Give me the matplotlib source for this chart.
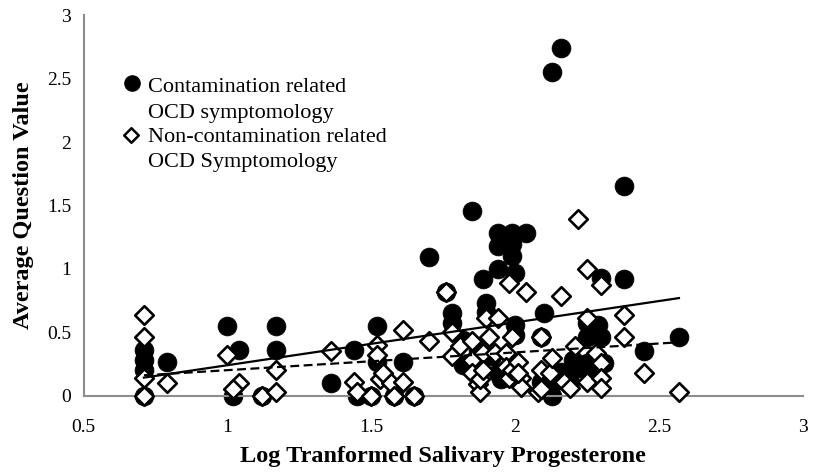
import numpy as np
import matplotlib
matplotlib.use('Agg')
import matplotlib.pyplot as plt

plt.rcParams['font.family'] = ['Liberation Serif', 'DejaVu Serif']

# contamination related OCD symptomology (filled circles)
contam_x = [0.71, 0.71, 0.71, 0.71, 0.79, 1.00, 1.04, 1.02, 1.12, 1.17, 1.17,
            1.36, 1.44, 1.45, 1.50, 1.52, 1.52, 1.58, 1.61, 1.65, 1.70, 1.76,
            1.78, 1.78, 1.82, 1.82, 1.85, 1.85, 1.87, 1.89, 1.90, 1.90, 1.92,
            1.94, 1.94, 1.94, 1.94, 1.95, 1.99, 1.99, 1.99, 2.00, 2.00, 2.00,
            2.04, 2.09, 2.09, 2.10, 2.13, 2.13, 2.16, 2.13, 2.16, 2.19, 2.20,
            2.22, 2.25, 2.25, 2.29, 2.25, 2.30, 2.28, 2.31, 2.30, 2.38, 2.38,
            2.45, 2.57]
contam_y = [0.36, 0.28, 0.20, 0.00, 0.27, 0.55, 0.36, 0.00, 0.00, 0.55, 0.36,
            0.10, 0.36, 0.00, 0.00, 0.55, 0.27, 0.00, 0.27, 0.00, 1.09, 0.82,
            0.65, 0.57, 0.44, 0.24, 1.46, 0.27, 0.36, 0.92, 0.73, 0.66, 0.31,
            1.28, 1.18, 1.00, 0.18, 0.13, 1.28, 1.20, 1.10, 0.48, 0.97, 0.56,
            1.28, 0.46, 0.11, 0.65, 2.55, 0.09, 2.74, 0.00, 0.19, 0.11, 0.28,
            0.22, 0.57, 0.46, 0.56, 0.26, 0.46, 0.19, 0.26, 0.93, 1.65, 0.92,
            0.35, 0.46]

# non-contamination related OCD symptomology (open diamonds)
noncon_x = [0.71, 0.71, 0.71, 0.71, 0.79, 1.00, 1.04, 1.02, 1.12, 1.17, 1.17,
            1.36, 1.44, 1.45, 1.50, 1.52, 1.52, 1.53, 1.54, 1.57, 1.58, 1.61,
            1.61, 1.65, 1.70, 1.76, 1.78, 1.78, 1.81, 1.85, 1.85, 1.85, 1.87,
            1.88, 1.88, 1.89, 1.89, 1.90, 1.91, 1.93, 1.94, 1.97, 1.97, 1.98,
            1.98, 1.99, 1.99, 2.01, 2.02, 2.02, 2.04, 2.01, 2.08, 2.09, 2.09,
            2.09, 2.12, 2.13, 2.16, 2.17, 2.19, 2.21, 2.22, 2.25, 2.25, 2.25,
            2.28, 2.30, 2.30, 2.30, 2.30, 2.38, 2.38, 2.45, 2.57]
noncon_y = [0.64, 0.46, 0.14, 0.00, 0.10, 0.32, 0.10, 0.05, 0.00, 0.20, 0.03,
            0.35, 0.11, 0.03, 0.00, 0.40, 0.32, 0.13, 0.18, 0.10, 0.00, 0.11,
            0.52, 0.00, 0.43, 0.82, 0.50, 0.31, 0.39, 0.43, 0.28, 0.18, 0.09,
            0.03, 0.13, 0.34, 0.20, 0.61, 0.46, 0.34, 0.61, 0.34, 0.23, 0.89,
            0.14, 0.46, 0.20, 0.27, 0.14, 0.07, 0.82, 0.18, 0.03, 0.46, 0.20,
            0.05, 0.18, 0.30, 0.79, 0.11, 0.06, 0.39, 1.39, 1.00, 0.61, 0.11,
            0.34, 0.87, 0.26, 0.14, 0.06, 0.64, 0.46, 0.18, 0.03]

# linear trend lines (slope, intercept)
contam_fit = (0.337, -0.096)
noncon_fit = (0.140, 0.062)

x_ticks = [0.5, 1, 1.5, 2, 2.5, 3]
y_ticks = [0, 0.5, 1, 1.5, 2, 2.5, 3]

fig = plt.figure(figsize=(8.19, 4.74), dpi=100)
ax = fig.add_axes([0.102, 0.165, 0.878, 0.803])

ax.scatter(contam_x, contam_y, s=185, marker='o', c='black', edgecolors='black',
           linewidths=0.5, zorder=2, clip_on=False)
ax.scatter(noncon_x, noncon_y, s=90, marker='D', c='white', edgecolors='black',
           linewidths=1.9, zorder=3, clip_on=False)

for xs, fit, ls in [(contam_x, contam_fit, '-'), (noncon_x, noncon_fit, '--')]:
    lx = np.array([min(xs), max(xs)])
    ax.plot(lx, fit[0] * lx + fit[1], color='black', linestyle=ls, lw=1.6,
            dashes=(4, 2) if ls == '--' else (None, None), zorder=4)

ax.set_xlim(0.5, 3)
ax.set_ylim(0, 3)
ax.set_xticks(x_ticks)
ax.set_yticks(y_ticks)
ax.set_xticklabels(['0.5', '1', '1.5', '2', '2.5', '3'])
ax.set_yticklabels(['0', '0.5', '1', '1.5', '2', '2.5', '3'])
ax.tick_params(length=0, labelsize=14)
ax.tick_params(axis='x', pad=17)
ax.tick_params(axis='y', pad=9)
for s in ['top', 'right']:
    ax.spines[s].set_visible(False)
for s in ['left', 'bottom']:
    ax.spines[s].set_color('#8c8c8c')
    ax.spines[s].set_linewidth(1.5)

ax.set_xlabel('Log Tranformed Salivary Progesterone', fontsize=17.5, fontweight='bold',
              labelpad=7)
ax.set_ylabel('Average Question Value', fontsize=17.5, fontweight='bold', labelpad=9)

# legend, markers beside the first line of each label
ax.scatter([0.0675], [0.822], s=120, marker='o', c='black', transform=ax.transAxes,
           clip_on=False)
ax.scatter([0.066], [0.685], s=55, marker='D', c='white', edgecolors='black',
           linewidths=1.8, transform=ax.transAxes, clip_on=False)
ax.text(0.0897, 0.776, 'Contamination related\nOCD symptomology', transform=ax.transAxes,
        fontsize=16, va='center', ha='left', linespacing=1.45)
ax.text(0.0897, 0.645, 'Non-contamination related\nOCD Symptomology', transform=ax.transAxes,
        fontsize=16, va='center', ha='left', linespacing=1.45)

fig.savefig('out.png', dpi=100)
